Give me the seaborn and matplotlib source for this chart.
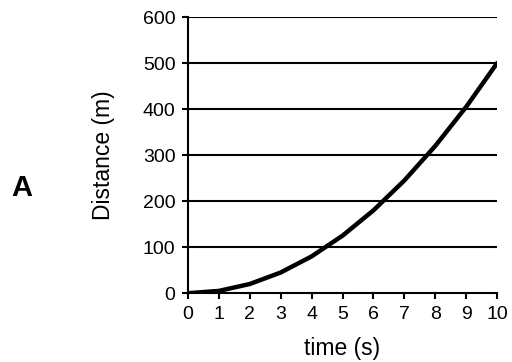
import matplotlib
matplotlib.use("Agg")
import matplotlib.pyplot as plt
import seaborn as sns
import pandas as pd

time_s = [0, 1, 2, 3, 4, 5, 6, 7, 8, 9, 10]
distance_m = [0, 5, 20, 45, 80, 125, 180, 245, 320, 405, 500]
x_ticks = [0, 1, 2, 3, 4, 5, 6, 7, 8, 9, 10]
y_ticks = [0, 100, 200, 300, 400, 500, 600]

sns.set_theme(style="white")
plt.rcParams['font.family'] = ['Liberation Sans', 'DejaVu Sans']

df = pd.DataFrame({"time": time_s, "distance": distance_m})

fig = plt.figure(figsize=(5.12, 3.62), dpi=100)
ax = fig.add_axes([0.367, 0.19, 0.604, 0.763])

for yv in y_ticks[1:]:
    ax.axhline(yv, color="black", lw=1.5, zorder=1)

sns.lineplot(data=df, x="time", y="distance", ax=ax, color="black", lw=3.2, zorder=3)

ax.set_xlim(0, 10)
ax.set_ylim(0, 600)
ax.set_xticks(x_ticks)
ax.set_yticks(y_ticks)
ax.tick_params(axis="both", direction="out", length=4, width=1.5, color="black",
               labelsize=14, labelcolor="black")
ax.tick_params(axis="y", pad=5)
ax.tick_params(axis="x", pad=5)
ax.xaxis.set_ticks_position("bottom")
ax.yaxis.set_ticks_position("left")
for s in ["top", "right"]:
    ax.spines[s].set_visible(False)
for s in ["left", "bottom"]:
    ax.spines[s].set_color("black")
    ax.spines[s].set_linewidth(1.5)
ax.set_xlabel("time (s)", fontsize=16.5, color="black", labelpad=10)
ax.set_ylabel("Distance (m)", fontsize=16.5, color="black", labelpad=20)

fig.text(22 / 512, 1 - 188 / 362, "A", fontsize=21, fontweight="bold",
         ha="center", va="center", color="black")

fig.savefig("out.png", dpi=100)
